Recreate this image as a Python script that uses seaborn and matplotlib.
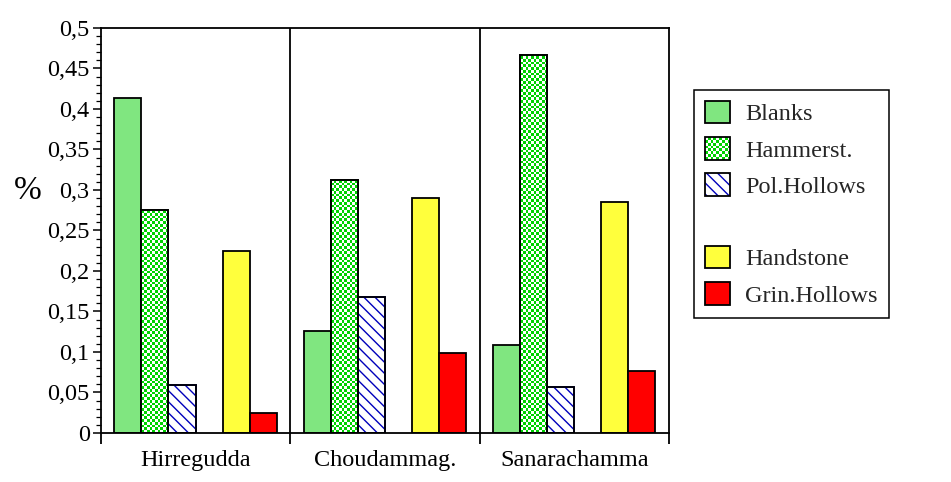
import numpy as np
import pandas as pd
import matplotlib
matplotlib.use("Agg")
import matplotlib.pyplot as plt
import seaborn as sns
from matplotlib.patches import Patch, Rectangle
from matplotlib.collections import PatchCollection
from matplotlib.legend_handler import HandlerBase
from matplotlib.ticker import MultipleLocator, FuncFormatter

# values (fraction, y axis labelled "%")
sites = ["Hirregudda", "Choudammag.", "Sanarachamma"]
blanks = [0.414, 0.126, 0.109]
hammerst = [0.275, 0.312, 0.467]
pol_hollows = [0.059, 0.168, 0.057]
handstone = [0.225, 0.290, 0.285]
grin_hollows = [0.025, 0.099, 0.077]

categories = ["Blanks", "Hammerst.", "Pol.Hollows", "Handstone", "Grin.Hollows"]
# one empty slot between the two sets of bars
slot_order = ["Blanks", "Hammerst.", "Pol.Hollows", " ", "Handstone", "Grin.Hollows"]

green = "#00d200"
light_green = "#80e680"   # fine green/white checker seen from a distance
yellow = "#ffff3c"
red = "#ff0000"
blue = "#0000bb"
palette = {"Blanks": light_green, "Hammerst.": "white", "Pol.Hollows": "white", " ": "white",
           "Handstone": yellow, "Grin.Hollows": red}

df = pd.DataFrame({
    "site": sites * 5,
    "cat": np.repeat(categories, 3),
    "value": blanks + hammerst + pol_hollows + handstone + grin_hollows,
})

sns.set_theme(style="ticks")
plt.rcParams["font.family"] = ["Liberation Serif", "DejaVu Serif"]
plt.rcParams["hatch.linewidth"] = 1.0

fig, ax = plt.subplots(figsize=(9.51, 4.82), dpi=100)
fig.subplots_adjust(left=0.106, right=0.7035, bottom=0.1017, top=0.942)

sns.barplot(data=df, x="site", y="value", hue="cat", hue_order=slot_order, order=sites,
            palette=palette, width=6 / 7, saturation=1, edgecolor="black", linewidth=1.3,
            errorbar=None, legend=False, ax=ax)

ax.set_xlim(-0.5, 2.5)
ax.set_ylim(0, 0.5)

LW = 1.3


def checker_fill(bar, cell_px, color):
    # green squares in a checkerboard, clipped to the bar
    x0, y0 = bar.get_x(), bar.get_y()
    w, h = bar.get_width(), bar.get_height()
    p0 = ax.transData.transform((x0, y0))
    p1 = ax.transData.transform((x0 + w, y0 + h))
    nx = max(1, int(round((p1[0] - p0[0]) / cell_px)))
    ny = int(np.ceil((p1[1] - p0[1]) / cell_px))
    cw = w / nx
    ch = cell_px * h / (p1[1] - p0[1])
    sq = [Rectangle((x0 + i * cw, y0 + j * ch), cw, ch)
          for i in range(nx) for j in range(ny) if (i + j) % 2 == 0]
    pc = PatchCollection(sq, facecolor=color, edgecolor="none", antialiased=False,
                         zorder=bar.get_zorder() + 0.05)
    ax.add_collection(pc)
    pc.set_clip_path(bar)
    ax.add_patch(Rectangle((x0, y0), w, h, fill=False, edgecolor="black", linewidth=LW,
                           zorder=bar.get_zorder() + 0.1))


drawn = [c for c in slot_order if c in categories]
for cat, cont in zip(drawn, ax.containers):
    for bar in cont:
        if cat == "Hammerst.":
            checker_fill(bar, 2.75, green)
        elif cat == "Pol.Hollows":
            bar.set_facecolor("white")
            bar.set_edgecolor(blue)
            bar.set_hatch("\\\\\\")
            ax.add_patch(Rectangle((bar.get_x(), bar.get_y()), bar.get_width(), bar.get_height(),
                                   fill=False, edgecolor="black", linewidth=LW, zorder=bar.get_zorder() + 0.1))

ax.set_xlim(-0.5, 2.5)
ax.set_ylim(0, 0.5)

# group separators
for xb in [0.5, 1.5]:
    ax.axvline(xb, color="black", linewidth=LW, zorder=3)

for sp in ax.spines.values():
    sp.set_visible(True)
    sp.set_linewidth(LW)
    sp.set_color("black")

ax.set_xticks([-0.5, 0.5, 1.5, 2.5])
ax.set_xticklabels([])
ax.set_xticks([0, 1, 2], minor=True)
ax.set_xticklabels(sites, minor=True)
ax.tick_params(axis="x", which="major", length=8, width=LW, direction="out", color="black")
ax.tick_params(axis="x", which="minor", length=0, pad=12, labelsize=17.5, labelcolor="black")

ax.yaxis.set_major_locator(MultipleLocator(0.05))
ax.yaxis.set_minor_locator(MultipleLocator(0.01))
ax.yaxis.set_major_formatter(FuncFormatter(lambda v, _: ("%g" % round(v, 2)).replace(".", ",")))
ax.tick_params(axis="y", which="major", length=6, width=1.1, direction="out", pad=2,
               labelsize=17.5, color="black", labelcolor="black")
ax.tick_params(axis="y", which="minor", length=3.5, width=0.9, direction="out", color="black")

ax.set_xlabel("")
ax.set_ylabel("%", rotation=0, fontsize=24, color="black")
ax.yaxis.set_label_coords(-0.128, 0.56)


class CheckerHandler(HandlerBase):
    def __init__(self, cell_pt, color):
        super().__init__()
        self.cell_pt = cell_pt
        self.color = color

    def legend_artist(self, legend, orig_handle, fontsize, handlebox):
        x0, y0 = -handlebox.xdescent, -handlebox.ydescent
        w, h = handlebox.width, handlebox.height
        n = max(1, int(round(w / self.cell_pt)))
        m = max(1, int(round(h / self.cell_pt)))
        cw, ch = w / n, h / m
        squares = [Rectangle((x0 + i * cw, y0 + j * ch), cw, ch)
                   for i in range(n) for j in range(m) if (i + j) % 2 == 0]
        tr = handlebox.get_transform()
        bg = Rectangle((x0, y0), w, h, facecolor="white", edgecolor="none", transform=tr)
        pc = PatchCollection(squares, facecolor=self.color, edgecolor="none", antialiased=False, transform=tr)
        outline = Rectangle((x0, y0), w, h, facecolor="none", edgecolor="black", linewidth=LW, transform=tr)
        handlebox.add_artist(bg)
        handlebox.add_artist(pc)
        handlebox.add_artist(outline)
        return outline


h_blanks = Patch(facecolor=light_green, edgecolor="black", linewidth=LW)
h_hammer = Patch(label="Hammerst.")
h_pol = (Patch(facecolor="white", edgecolor=blue, hatch="\\\\\\", linewidth=0),
         Patch(facecolor="none", edgecolor="black", linewidth=LW))
h_gap = Patch(visible=False)
h_hand = Patch(facecolor=yellow, edgecolor="black", linewidth=LW)
h_grin = Patch(facecolor=red, edgecolor="black", linewidth=LW)

leg = fig.legend([h_blanks, h_hammer, h_pol, h_gap, h_hand, h_grin],
                 ["Blanks", "Hammerst.", "Pol.Hollows", " ", "Handstone", "Grin.Hollows"],
                 handler_map={h_hammer: CheckerHandler(2.0, green)},
                 loc="upper left", bbox_to_anchor=(0.7298, 0.8133), borderaxespad=0,
                 fontsize=17.5, handlelength=1.05, handleheight=1.05, handletextpad=0.6,
                 labelspacing=0.48, borderpad=0.45, frameon=True, fancybox=False, shadow=False)
leg.get_frame().set_edgecolor("black")
leg.get_frame().set_linewidth(1.1)
leg.get_frame().set_alpha(1)

fig.savefig("out.png", dpi=100, facecolor="white")
